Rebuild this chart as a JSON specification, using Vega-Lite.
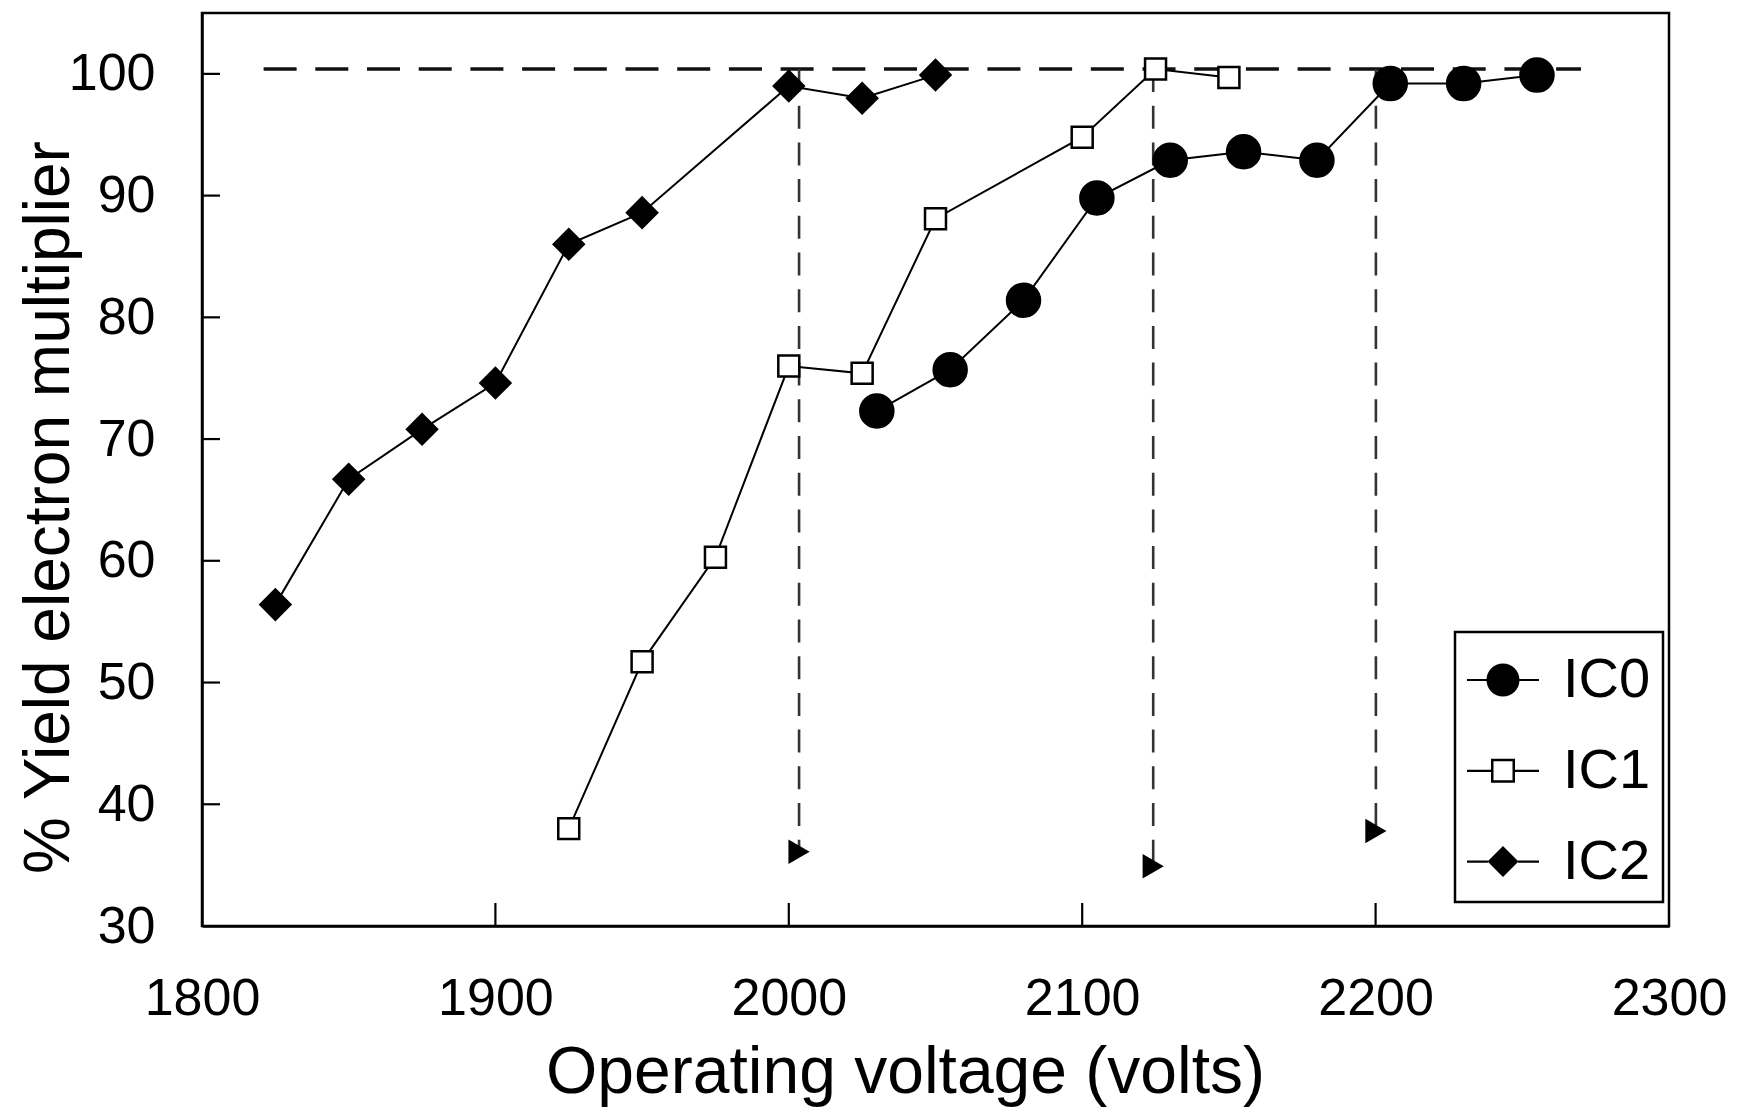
{
  "$schema": "https://vega.github.io/schema/vega-lite/v6.json",
  "width": 1467,
  "height": 913,
  "autosize": {"type": "none"},
  "padding": {"left": 202, "top": 13, "right": 69, "bottom": 186},
  "background": "white",
  "config": {
    "font": "Liberation Sans",
    "view": {"stroke": "black", "strokeWidth": 2.5},
    "legend": {"strokeWidth": 2.5},
    "axis": {
      "grid": false,
      "ticks": false,
      "domainColor": "black",
      "domainWidth": 2.5,
      "labelColor": "black",
      "titleColor": "black",
      "labelFont": "Liberation Sans",
      "titleFont": "Liberation Sans",
      "titleFontWeight": "normal",
      "labelFontSize": 52,
      "labelFlush": false,
      "labelOverlap": false
    }
  },
  "datasets": {
    "series": [
      {"v": 1825, "y": 56.4, "series": "IC2"},
      {"v": 1850, "y": 66.7, "series": "IC2"},
      {"v": 1875, "y": 70.8, "series": "IC2"},
      {"v": 1900, "y": 74.6, "series": "IC2"},
      {"v": 1925, "y": 86.0, "series": "IC2"},
      {"v": 1950, "y": 88.6, "series": "IC2"},
      {"v": 2000, "y": 99.0, "series": "IC2"},
      {"v": 2025, "y": 98.0, "series": "IC2"},
      {"v": 2050, "y": 99.9, "series": "IC2"},
      {"v": 1925, "y": 38.0, "series": "IC1"},
      {"v": 1950, "y": 51.7, "series": "IC1"},
      {"v": 1975, "y": 60.3, "series": "IC1"},
      {"v": 2000, "y": 76.0, "series": "IC1"},
      {"v": 2025, "y": 75.4, "series": "IC1"},
      {"v": 2050, "y": 88.1, "series": "IC1"},
      {"v": 2100, "y": 94.8, "series": "IC1"},
      {"v": 2125, "y": 100.4, "series": "IC1"},
      {"v": 2150, "y": 99.7, "series": "IC1"},
      {"v": 2030, "y": 72.3, "series": "IC0"},
      {"v": 2055, "y": 75.7, "series": "IC0"},
      {"v": 2080, "y": 81.4, "series": "IC0"},
      {"v": 2105, "y": 89.8, "series": "IC0"},
      {"v": 2130, "y": 92.9, "series": "IC0"},
      {"v": 2155, "y": 93.6, "series": "IC0"},
      {"v": 2180, "y": 92.9, "series": "IC0"},
      {"v": 2205, "y": 99.2, "series": "IC0"},
      {"v": 2230, "y": 99.2, "series": "IC0"},
      {"v": 2255, "y": 99.9, "series": "IC0"}
    ],
    "hline": [{"v": 1821, "v2": 2270, "y": 100.4}],
    "vlines": [
      {"v": 2003.5, "y": 100.4, "y2": 36.1},
      {"v": 2124.2, "y": 100.4, "y2": 34.9},
      {"v": 2200.1, "y": 100.4, "y2": 37.8}
    ],
    "arrows": [
      {"v": 2003.5, "y": 36.1},
      {"v": 2124.2, "y": 34.9},
      {"v": 2200.1, "y": 37.8}
    ],
    "xtickpos": [
      {"v": 1900, "y": 30, "yb": 30},
      {"v": 2000, "y": 30, "yb": 30},
      {"v": 2100, "y": 30, "yb": 30},
      {"v": 2200, "y": 30, "yb": 30}
    ],
    "ytickpos": [
      {"v": 1800, "vb": 1800, "y": 40},
      {"v": 1800, "vb": 1800, "y": 50},
      {"v": 1800, "vb": 1800, "y": 60},
      {"v": 1800, "vb": 1800, "y": 70},
      {"v": 1800, "vb": 1800, "y": 80},
      {"v": 1800, "vb": 1800, "y": 90},
      {"v": 1800, "vb": 1800, "y": 100}
    ]
  },
  "encoding": {
    "x": {
      "field": "v",
      "type": "quantitative",
      "scale": {"domain": [1800, 2300], "nice": false, "zero": false},
      "axis": {
        "values": [1800, 1900, 2000, 2100, 2200, 2300],
        "format": "d",
        "labelPadding": 47,
        "title": "Operating voltage (volts)",
        "titleFontSize": 66,
        "titleX": 703,
        "titleY": 166,
        "titleBaseline": "alphabetic",
        "titleAlign": "center",
        "titleAngle": 0
      }
    },
    "y": {
      "field": "y",
      "type": "quantitative",
      "scale": {"domain": [30, 105], "nice": false, "zero": false},
      "axis": {
        "values": [30, 40, 50, 60, 70, 80, 90, 100],
        "format": "d",
        "labelPadding": 47,
        "title": "% Yield electron multiplier",
        "titleFontSize": 64,
        "titleX": -134,
        "titleY": 494,
        "titleBaseline": "alphabetic",
        "titleAlign": "center",
        "titleAngle": -90
      }
    }
  },
  "layer": [
    {
      "data": {"name": "hline"},
      "mark": {"type": "rule", "color": "#111", "strokeWidth": 3.6, "strokeDash": [33, 18.7]},
      "encoding": {"x2": {"field": "v2"}}
    },
    {
      "data": {"name": "vlines"},
      "mark": {"type": "rule", "color": "#333", "strokeWidth": 2.6, "strokeDash": [23, 13.7]},
      "encoding": {"y2": {"field": "y2"}}
    },
    {
      "data": {"name": "arrows"},
      "mark": {"type": "point", "shape": "triangle-right", "filled": true, "color": "black", "size": 600, "opacity": 1}
    },
    {
      "data": {"name": "series"},
      "mark": {"type": "line", "color": "black", "strokeWidth": 2},
      "encoding": {"detail": {"field": "series", "type": "nominal"}}
    },
    {
      "data": {"name": "series"},
      "mark": {"type": "point", "stroke": "black", "strokeWidth": 2.5, "opacity": 1, "fillOpacity": 1},
      "encoding": {
        "shape": {
          "condition": [
            {"test": "datum.series === 'IC0'", "value": "circle"},
            {"test": "datum.series === 'IC1'", "value": "square"}
          ],
          "value": "diamond"
        },
        "fill": {
          "condition": {"test": "datum.series === 'IC1'", "value": "white"},
          "value": "black"
        },
        "size": {
          "condition": [
            {"test": "datum.series === 'IC0'", "value": 1089},
            {"test": "datum.series === 'IC1'", "value": 440}
          ],
          "value": 900
        }
      }
    },
    {
      "data": {"name": "series"},
      "mark": {"type": "point", "filled": true, "color": "black", "strokeWidth": 0, "opacity": 0, "size": 5184},
      "encoding": {
        "shape": {
          "field": "series",
          "type": "nominal",
          "scale": {
            "domain": ["IC0", "IC1", "IC2"],
            "range": [
              "M-1,-0.03H-0.44V0.03H-1ZM0.44,-0.03H1V0.03H0.44ZM0.458,0A0.458,0.458,0,1,1,-0.458,0A0.458,0.458,0,1,1,0.458,0Z",
              "M-1,-0.03H-0.333V0.03H-1ZM0.333,-0.03H1V0.03H0.333ZM-0.333,-0.333H0.333V0.333H-0.333ZM-0.264,-0.264V0.264H0.264V-0.264Z",
              "M-1,-0.03H-0.42V0.03H-1ZM0.42,-0.03H1V0.03H0.42ZM0,-0.43L0.43,0L0,0.43L-0.43,0Z"
            ]
          },
          "legend": {
            "title": null,
            "orient": "none",
            "legendX": 1253,
            "legendY": 619,
            "direction": "vertical",
            "padding": 12,
            "strokeColor": "black",
            "fillColor": "white",
            "cornerRadius": 0,
            "labelFont": "Liberation Sans",
            "labelFontSize": 56,
            "labelColor": "black",
            "labelOffset": 24,
            "labelBaseline": "middle",
            "rowPadding": 26.8,
            "symbolSize": 5184,
            "symbolStrokeWidth": 0,
            "symbolFillColor": "black",
            "symbolOpacity": 1
          }
        }
      }
    },
    {
      "data": {"name": "xtickpos"},
      "mark": {"type": "rule", "color": "black", "strokeWidth": 2.2, "y2Offset": -23},
      "encoding": {"y2": {"field": "yb"}}
    },
    {
      "data": {"name": "ytickpos"},
      "mark": {"type": "rule", "color": "black", "strokeWidth": 2.2, "x2Offset": 18},
      "encoding": {"x2": {"field": "vb"}}
    }
  ]
}
